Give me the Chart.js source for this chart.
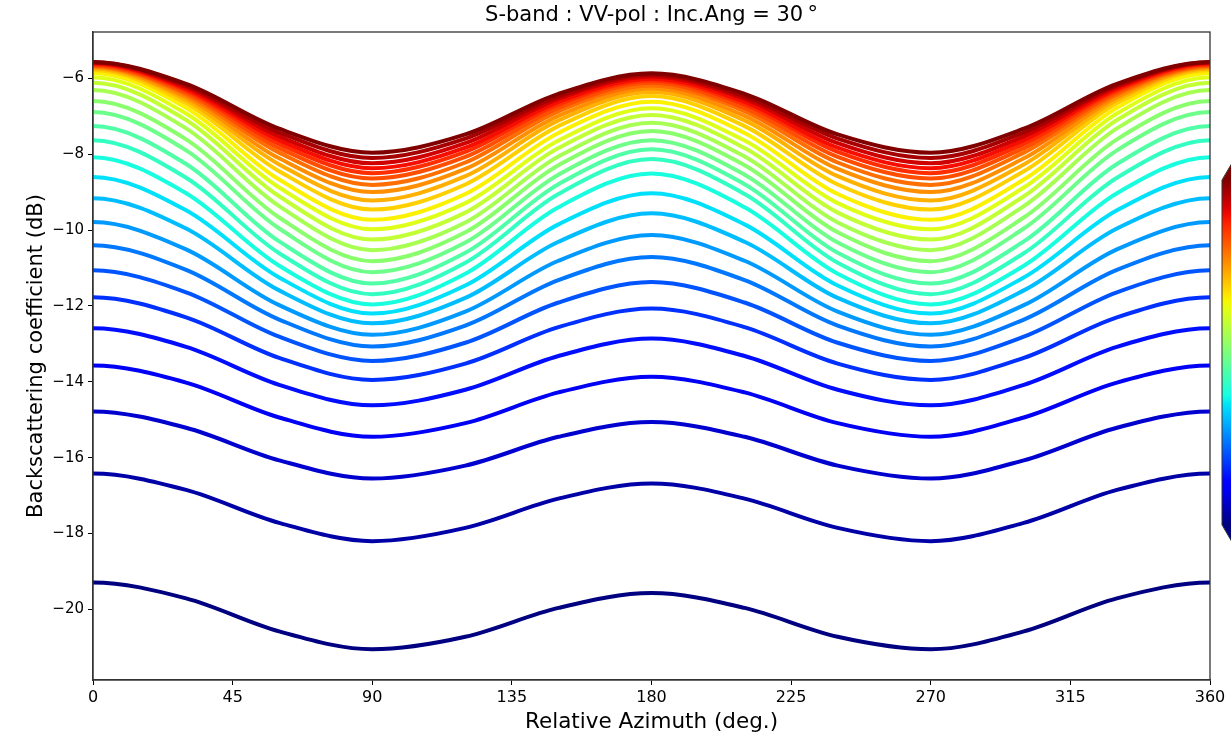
<!DOCTYPE html>
<html lang="en">
<head>
<meta charset="UTF-8">
<title>S-band : VV-pol : Inc.Ang = 30</title>
<script src="https://cdn.jsdelivr.net/npm/chart.js"></script>
<style>
  html, body { margin: 0; padding: 0; background: #fff; }
  #wrap { width: 1231px; height: 741px; position: relative; }
</style>
</head>
<body>
<div id="wrap"><canvas id="sigmaChart"></canvas></div>

<script>
// azimuth samples (deg) - the curve is symmetric around 180, so the right half reuses the left readings
const azimuth = [-30, 0, 30, 60, 90, 120, 150, 180, 210, 240, 270, 300, 330, 360, 390];
const xTicks = [0, 45, 90, 135, 180, 225, 270, 315, 360];
const yTicks = [-20, -18, -16, -14, -12, -10, -8, -6];

// backscatter (dB), lowest (navy) to highest (dark red)
const at0   = [-19.29, -16.42, -14.78, -13.57, -12.59, -11.77, -11.06, -10.40, -9.79, -9.16, -8.60, -8.08, -7.63, -7.26, -6.89, -6.60, -6.31, -6.12, -5.97, -5.86, -5.78, -5.74, -5.71, -5.68, -5.66, -5.63, -5.61, -5.59, -5.58, -5.57];
const at30  = [-19.71, -16.85, -15.21, -14.02, -13.08, -12.30, -11.64, -11.05, -10.51, -9.96, -9.48, -9.03, -8.62, -8.26, -7.90, -7.61, -7.32, -7.10, -6.93, -6.78, -6.66, -6.57, -6.50, -6.43, -6.38, -6.32, -6.28, -6.23, -6.19, -6.15];
const at60  = [-20.58, -17.72, -16.07, -14.94, -14.08, -13.37, -12.81, -12.36, -11.98, -11.59, -11.25, -10.94, -10.61, -10.30, -9.96, -9.67, -9.37, -9.11, -8.88, -8.67, -8.45, -8.27, -8.11, -7.96, -7.84, -7.73, -7.63, -7.53, -7.43, -7.33];
const at90  = [-21.05, -18.20, -16.55, -15.45, -14.62, -13.95, -13.45, -13.07, -12.76, -12.46, -12.20, -11.96, -11.69, -11.41, -11.11, -10.82, -10.53, -10.25, -9.98, -9.73, -9.46, -9.22, -9.00, -8.81, -8.64, -8.50, -8.37, -8.24, -8.10, -7.96];
const at120 = [-20.72, -17.85, -16.21, -15.09, -14.21, -13.52, -12.97, -12.52, -12.15, -11.79, -11.46, -11.15, -10.86, -10.60, -10.33, -10.06, -9.80, -9.54, -9.29, -9.05, -8.80, -8.58, -8.39, -8.22, -8.07, -7.94, -7.83, -7.71, -7.59, -7.48];
const at150 = [-19.96, -17.08, -15.45, -14.28, -13.32, -12.56, -11.91, -11.32, -10.81, -10.31, -9.85, -9.40, -9.05, -8.79, -8.54, -8.29, -8.06, -7.84, -7.64, -7.44, -7.26, -7.11, -6.99, -6.87, -6.78, -6.69, -6.62, -6.54, -6.48, -6.41];
const at180 = [-19.57, -16.68, -15.06, -13.87, -12.86, -12.07, -11.37, -10.71, -10.13, -9.56, -9.03, -8.51, -8.13, -7.87, -7.63, -7.39, -7.17, -6.97, -6.79, -6.62, -6.47, -6.36, -6.27, -6.19, -6.12, -6.06, -6.01, -5.95, -5.91, -5.87];

const FONT = "'DejaVu Sans', sans-serif";

// matplotlib jet segment data
const JET = {
  r: [[0, 0], [0.35, 0], [0.66, 1], [0.89, 1], [1, 0.5]],
  g: [[0, 0], [0.125, 0], [0.375, 1], [0.64, 1], [0.91, 0], [1, 0]],
  b: [[0, 0.5], [0.11, 1], [0.34, 1], [0.65, 0], [1, 0]]
};
function seg(pts, t) {
  for (let i = 1; i < pts.length; i++) {
    if (t <= pts[i][0]) {
      const [x0, y0] = pts[i - 1], [x1, y1] = pts[i];
      return y0 + (y1 - y0) * (t - x0) / (x1 - x0);
    }
  }
  return pts[pts.length - 1][1];
}
function jet(t) {
  const c = k => Math.round(255 * seg(JET[k], t));
  return `rgb(${c('r')},${c('g')},${c('b')})`;
}

function profile(i) {
  const v = [at30, at0, at30, at60, at90, at120, at150, at180, at150, at120, at90, at60, at30, at0, at30];
  return azimuth.map((a, k) => ({ x: a, y: v[k][i] }));
}

const n = at0.length;
const datasets = [];
// first dataset is painted last, so put the top (red) curve first
for (let i = n - 1; i >= 0; i--) {
  datasets.push({
    label: 'curve ' + (i + 1),
    data: profile(i),
    borderColor: jet(i / (n - 1)),
    borderWidth: 4,
    pointRadius: 0,
    cubicInterpolationMode: 'monotone',
    clip: 0
  });
}

const minusFmt = v => (v < 0 ? '\u2212' : '') + Math.abs(v);

const frameAndExtras = {
  id: 'frameAndExtras',
  afterDraw(chart) {
    const { ctx, chartArea: a } = chart;
    ctx.save();
    // box frame
    ctx.strokeStyle = '#333';
    ctx.lineWidth = 1.3;
    ctx.strokeRect(a.left, a.top, a.right - a.left, a.bottom - a.top);

    // title
    ctx.fillStyle = '#000';
    ctx.font = '21px ' + FONT;
    ctx.textAlign = 'center';
    ctx.textBaseline = 'middle';
    ctx.fillText('S-band : VV-pol : Inc.Ang = 30\u2009\u00B0', (a.left + a.right) / 2, 16);

    // colorbar, mostly cut off by the right edge
    const L = 1222, C = 1232, R = 1242, top = 180, bot = 525, tip = 17;
    const grad = ctx.createLinearGradient(0, top, 0, bot);
    for (let s = 0; s <= 40; s++) grad.addColorStop(s / 40, jet(1 - s / 40));
    ctx.fillStyle = grad;
    ctx.fillRect(L, top, R - L, bot - top);
    ctx.fillStyle = jet(1);
    ctx.beginPath(); ctx.moveTo(L, top + 0.5); ctx.lineTo(C, top - tip); ctx.lineTo(R, top + 0.5); ctx.closePath(); ctx.fill();
    ctx.fillStyle = jet(0);
    ctx.beginPath(); ctx.moveTo(L, bot - 0.5); ctx.lineTo(C, bot + tip); ctx.lineTo(R, bot - 0.5); ctx.closePath(); ctx.fill();
    ctx.strokeStyle = '#333';
    ctx.lineWidth = 1;
    ctx.beginPath();
    ctx.moveTo(C, top - tip); ctx.lineTo(L, top); ctx.lineTo(L, bot); ctx.lineTo(C, bot + tip);
    ctx.stroke();
    ctx.restore();
  }
};

new Chart(document.getElementById('sigmaChart'), {
  type: 'line',
  data: { datasets },
  options: {
    responsive: true,
    maintainAspectRatio: false,
    animation: false,
    events: [],
    layout: { padding: { left: 0, right: 21, top: 32, bottom: 0 } },
    plugins: { legend: { display: false }, tooltip: { enabled: false }, title: { display: false } },
    scales: {
      x: {
        type: 'linear',
        min: 0,
        max: 360,
        afterBuildTicks: s => { s.ticks = xTicks.map(v => ({ value: v })); },
        afterFit: s => { s.height = 61; },
        grid: { drawOnChartArea: false, drawTicks: true, tickLength: 5, color: '#000' },
        border: { display: true, color: '#333', width: 1.3 },
        ticks: { color: '#000', font: { family: FONT, size: 16 }, padding: 3, maxRotation: 0 },
        title: { display: true, text: 'Relative Azimuth (deg.)', color: '#000', font: { family: FONT, size: 21.5 }, padding: { top: 2, bottom: 6 } }
      },
      y: {
        type: 'linear',
        min: -21.86,
        max: -4.78,
        afterBuildTicks: s => { s.ticks = yTicks.map(v => ({ value: v })); },
        afterFit: s => { s.width = 93; },
        grid: { drawOnChartArea: false, drawTicks: true, tickLength: 5, color: '#000' },
        border: { display: true, color: '#333', width: 1.3 },
        ticks: { color: '#000', font: { family: FONT, size: 15 }, padding: 4, callback: minusFmt },
        title: { display: true, text: 'Backscattering coefficient (dB)', color: '#000', font: { family: FONT, size: 21 }, padding: { top: 24, bottom: 0 } }
      }
    }
  },
  plugins: [frameAndExtras]
});
</script>
</body>
</html>
